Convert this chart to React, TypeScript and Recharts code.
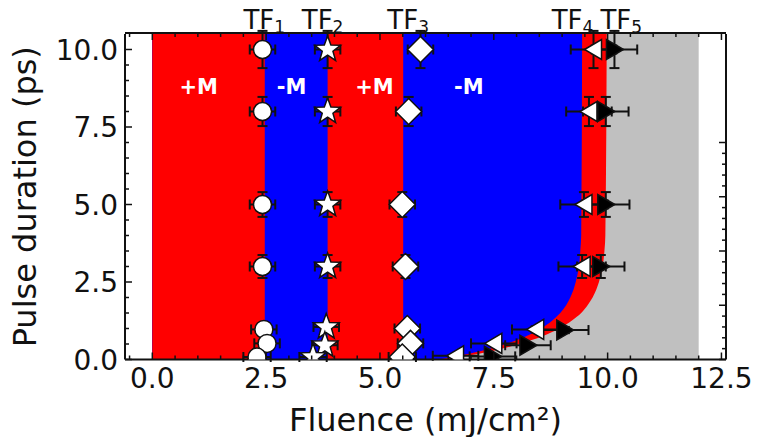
import { ComposedChart, Area, Scatter, XAxis, YAxis, ErrorBar, Label } from 'recharts';

const FONT = 'DejaVu Sans, sans-serif';
const RED = '#ff0000';
const BLUE = '#0000ff';
const GRAY = '#c0c0c0';
const INK = '#111111';

// phase boundaries (fluence, mJ/cm2) as a function of pulse duration
const pulse = [0, 0.15, 0.3, 0.5, 0.75, 1.0, 1.25, 1.5, 1.75, 2.0, 2.25, 2.5, 3.0, 3.5, 4.0, 10.5];
const edgeTF4 = [6.3, 6.84, 7.28, 7.76, 8.21, 8.54, 8.78, 8.96, 9.09, 9.18, 9.25, 9.3, 9.37, 9.4, 9.42, 9.44];
const edgeTF5 = [6.45, 7.04, 7.54, 8.06, 8.57, 8.94, 9.21, 9.42, 9.56, 9.67, 9.75, 9.81, 9.89, 9.93, 9.95, 9.98];
const edgeTF1 = 2.47;
const edgeTF2 = 3.85;
const edgeTF3 = 5.51;
const grayEnd = 12.0;

// measured thresholds
const tf1X = [2.42, 2.42, 2.42, 2.42, 2.45, 2.52, 2.3];
const tf1Y = [10, 8, 5, 3, 0.97, 0.52, 0.08];
const tf2X = [3.85, 3.85, 3.85, 3.85, 3.82, 3.79, 3.53];
const tf2Y = [10, 8, 5, 3, 1.05, 0.46, 0.08];
const tf3X = [5.89, 5.63, 5.49, 5.56, 5.6, 5.67, 5.49];
const tf3Y = [10, 8, 5, 3, 1.0, 0.52, 0.08];
const tf4X = [9.69, 9.59, 9.48, 9.44, 8.42, 7.5, 6.66];
const tf4Y = [10, 8, 5, 3, 0.97, 0.52, 0.12];
const tf5X = [10.15, 9.96, 9.96, 9.85, 9.06, 8.25, 7.47];
const tf5Y = [10, 8, 5, 3, 0.95, 0.46, 0.1];
const yErr = [0.6, 0.47, 0.4, 0.37, 0.1, 0.05, 0.01];
const xErrLow = [0.28, 0.28, 0.28, 0.28, 0.28, 0.28, 0.3];
const xErrHigh = [0.5, 0.5, 0.52, 0.52, 0.52, 0.5, 0.5];

const regionLabels = ['+M', '-M', '+M', '-M'];
const regionLabelX = [1.02, 3.06, 4.88, 6.95];
const regionLabelY = [8.83, 8.83, 8.83, 8.83];

const tfNames = ['1', '2', '3', '4', '5'];
const tfTicks = [2.46, 3.74, 5.62, 9.23, 10.3];

const xTicks = [-0.5, 0, 0.5, 1, 1.5, 2, 2.5, 3, 3.5, 4, 4.5, 5, 5.5, 6, 6.5, 7, 7.5, 8, 8.5, 9, 9.5, 10, 10.5, 11, 11.5, 12, 12.5];
const yTicks = [0, 0.5, 1, 1.5, 2, 2.5, 3, 3.5, 4, 4.5, 5, 5.5, 6, 6.5, 7, 7.5, 8, 8.5, 9, 9.5, 10];

const regionRows = pulse.map((y, i) => ({
  y,
  gray: grayEnd,
  red5: edgeTF5[i],
  blue4: edgeTF4[i],
  red3: edgeTF3,
  blue2: edgeTF2,
  red1: edgeTF1,
}));

const toPoints = (xs: number[], ys: number[], ex: number[]) =>
  xs.map((x, i) => ({ x, y: ys[i], ex: ex[i], ey: yErr[i] }));

const tf1Data = toPoints(tf1X, tf1Y, xErrLow);
const tf2Data = toPoints(tf2X, tf2Y, xErrLow);
const tf3Data = toPoints(tf3X, tf3Y, xErrLow);
const tf4Data = toPoints(tf4X, tf4Y, xErrHigh);
const tf5Data = toPoints(tf5X, tf5Y, xErrHigh);
const labelData = regionLabels.map((label, i) => ({ x: regionLabelX[i], y: regionLabelY[i], label }));

const isMajor = (v: number) => Math.abs(v / 2.5 - Math.round(v / 2.5)) < 1e-6;

const BottomTick = (p: any) => {
  const v = p.payload.value;
  const major = isMajor(v);
  return (
    <g>
      <line x1={p.x} x2={p.x} y1={p.y} y2={p.y - (major ? 7 : 4)} stroke={INK} strokeWidth={1.5} />
      {major && (
        <text x={p.x} y={p.y + 28} textAnchor="middle" fontSize={28} fontFamily={FONT} fill={INK}>
          {v.toFixed(1)}
        </text>
      )}
    </g>
  );
};

const TopTick = (p: any) => {
  const major = isMajor(p.payload.value);
  return <line x1={p.x} x2={p.x} y1={p.y} y2={p.y + (major ? 7 : 4)} stroke={INK} strokeWidth={1.5} />;
};

const LeftTick = (p: any) => {
  const v = p.payload.value;
  const major = isMajor(v);
  return (
    <g>
      <line x1={p.x} x2={p.x + (major ? 7 : 4)} y1={p.y} y2={p.y} stroke={INK} strokeWidth={1.5} />
      {major && (
        <text x={p.x - 7} y={p.y + 10} textAnchor="end" fontSize={28} fontFamily={FONT} fill={INK}>
          {v.toFixed(1)}
        </text>
      )}
    </g>
  );
};

const RightTick = (p: any) => {
  const major = isMajor(p.payload.value);
  return <line x1={p.x} x2={p.x - (major ? 7 : 4)} y1={p.y} y2={p.y} stroke={INK} strokeWidth={1.5} />;
};

const TFTick = (p: any) => (
  <text x={p.x} y={p.y - 5} textAnchor="middle" fontSize={26} fontFamily={FONT} fill={INK}>
    <tspan>TF</tspan>
    <tspan dx={0} dy={4} fontSize={17}>{tfNames[p.index]}</tspan>
  </text>
);

const XTitle = (p: any) => {
  const vb = p.viewBox || { x: 125, y: 359.5, width: 601 };
  return (
    <text x={vb.x + vb.width / 2} y={vb.y + 71} textAnchor="middle" fontSize={32} fontFamily={FONT} fill={INK}>
      Fluence (mJ/cm²)
    </text>
  );
};

const YTitle = (p: any) => {
  const vb = p.viewBox || { y: 34, height: 325.5 };
  const cx = 36;
  const cy = vb.y + vb.height / 2;
  return (
    <text x={cx} y={cy} transform={`rotate(-90, ${cx}, ${cy})`} textAnchor="middle" fontSize={32} fontFamily={FONT} fill={INK}>
      Pulse duration (ps)
    </text>
  );
};

const circleShape = (p: any) => <circle cx={p.cx} cy={p.cy} r={9} fill="#fff" stroke={INK} strokeWidth={1.5} />;

const starShape = (p: any) => {
  let d = '';
  for (let i = 0; i < 10; i++) {
    const rad = i % 2 === 0 ? 13.5 : 5.6;
    const a = -Math.PI / 2 + (i * Math.PI) / 5;
    d += (i === 0 ? 'M' : 'L') + (p.cx + rad * Math.cos(a)).toFixed(2) + ',' + (p.cy + rad * Math.sin(a)).toFixed(2);
  }
  return <path d={d + 'Z'} fill="#fff" stroke={INK} strokeWidth={1.5} />;
};

const diamondShape = (p: any) => (
  <path
    d={`M${p.cx},${p.cy - 13}L${p.cx + 13},${p.cy}L${p.cx},${p.cy + 13}L${p.cx - 13},${p.cy}Z`}
    fill="#fff"
    stroke={INK}
    strokeWidth={1.5}
  />
);

const leftTriangle = (p: any) => (
  <path
    d={`M${p.cx - 9},${p.cy}L${p.cx + 8},${p.cy - 10}L${p.cx + 8},${p.cy + 10}Z`}
    fill="#fff"
    stroke={INK}
    strokeWidth={1.5}
  />
);

const rightTriangle = (p: any) => (
  <path
    d={`M${p.cx + 9},${p.cy}L${p.cx - 8},${p.cy - 10}L${p.cx - 8},${p.cy + 10}Z`}
    fill="#000"
    stroke={INK}
    strokeWidth={1.5}
  />
);

const labelShape = (p: any) => (
  <text x={p.cx} y={p.cy + 8} textAnchor="middle" fontSize={21} fontWeight="bold" fontFamily={FONT} fill="#fff">
    {p.payload?.label ?? p.label}
  </text>
);

const errorBars = [
  <ErrorBar key="ex" dataKey="ex" direction="x" width={5} stroke={INK} strokeWidth={2} />,
  <ErrorBar key="ey" dataKey="ey" direction="y" width={5} stroke={INK} strokeWidth={2} />,
];

const areaProps = { fillOpacity: 1, stroke: 'none', isAnimationActive: false, dot: false, activeDot: false };

export default function App() {
  return (
    <div style={{ position: 'absolute', left: 0, top: 0, background: '#fff' }}>
      <ComposedChart
        width={757}
        height={437}
        layout="vertical"
        data={regionRows}
        margin={{ top: 32, right: 30, bottom: 0, left: 0 }}
      >
        <Area dataKey="gray" type="linear" fill={GRAY} {...areaProps} />
        <Area dataKey="red5" type="monotone" fill={RED} {...areaProps} />
        <Area dataKey="blue4" type="monotone" fill={BLUE} {...areaProps} />
        <Area dataKey="red3" type="linear" fill={RED} {...areaProps} />
        <Area dataKey="blue2" type="linear" fill={BLUE} {...areaProps} />
        <Area dataKey="red1" type="linear" fill={RED} {...areaProps} />

        <XAxis
          type="number"
          dataKey="x"
          domain={[-0.6, 12.6]}
          allowDataOverflow
          ticks={xTicks}
          interval={0}
          height={77.5}
          tickSize={0}
          tickMargin={0}
          tick={BottomTick}
          axisLine={{ stroke: INK, strokeWidth: 2 }}
        >
          <Label content={XTitle} />
        </XAxis>
        <XAxis
          xAxisId="top"
          orientation="top"
          type="number"
          domain={[-0.6, 12.6]}
          allowDataOverflow
          ticks={xTicks}
          interval={0}
          height={1}
          tickSize={0}
          tickMargin={0}
          tick={TopTick}
          axisLine={{ stroke: INK, strokeWidth: 2 }}
        />
        <XAxis
          xAxisId="tf"
          orientation="top"
          type="number"
          domain={[-0.6, 12.6]}
          allowDataOverflow
          ticks={tfTicks}
          interval={0}
          height={1}
          tickSize={0}
          tickMargin={0}
          tick={TFTick}
          axisLine={false}
        />
        <YAxis
          type="number"
          dataKey="y"
          domain={[0, 10.5]}
          allowDataOverflow
          reversed
          ticks={yTicks}
          interval={0}
          width={125}
          tickSize={0}
          tickMargin={0}
          tick={LeftTick}
          axisLine={{ stroke: INK, strokeWidth: 2 }}
        >
          <Label content={YTitle} />
        </YAxis>
        <YAxis
          yAxisId="right"
          orientation="right"
          type="number"
          domain={[0, 10.5]}
          allowDataOverflow
          reversed
          ticks={yTicks}
          interval={0}
          width={1}
          tickSize={0}
          tickMargin={0}
          tick={RightTick}
          axisLine={{ stroke: INK, strokeWidth: 2 }}
        />

        <Scatter data={labelData} dataKey="x" shape={labelShape} isAnimationActive={false} />
        <Scatter data={tf1Data} dataKey="x" shape={circleShape} isAnimationActive={false}>
          {errorBars}
        </Scatter>
        <Scatter data={tf2Data} dataKey="x" shape={starShape} isAnimationActive={false}>
          {errorBars}
        </Scatter>
        <Scatter data={tf3Data} dataKey="x" shape={diamondShape} isAnimationActive={false}>
          {errorBars}
        </Scatter>
        <Scatter data={tf4Data} dataKey="x" shape={leftTriangle} isAnimationActive={false}>
          {errorBars}
        </Scatter>
        <Scatter data={tf5Data} dataKey="x" shape={rightTriangle} isAnimationActive={false}>
          {errorBars}
        </Scatter>
      </ComposedChart>
    </div>
  );
}
